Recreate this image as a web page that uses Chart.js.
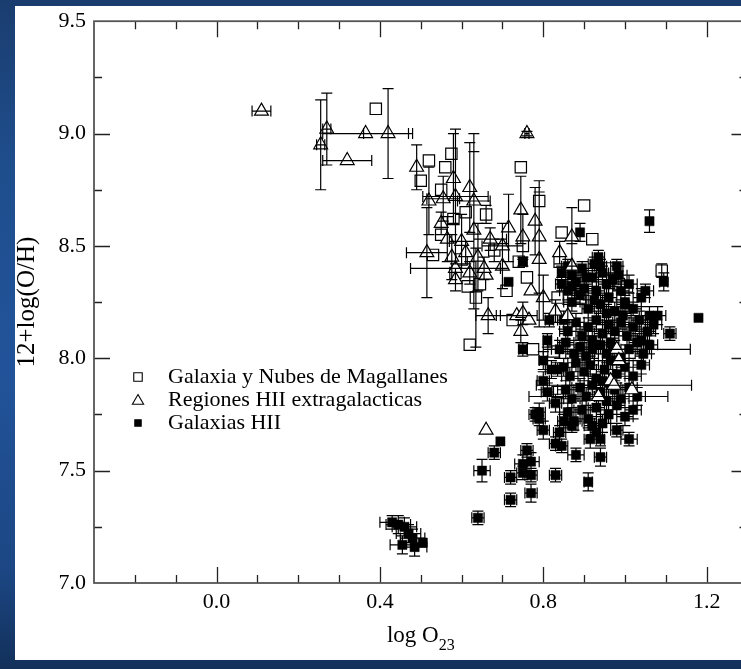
<!DOCTYPE html>
<html><head><meta charset="utf-8">
<title>12+log(O/H) vs log O23</title>
<script src="https://cdn.jsdelivr.net/npm/chart.js@4.4.1/dist/chart.umd.min.js"></script>
<style>
html,body{margin:0;padding:0;width:741px;height:669px;overflow:hidden;}
body{background:linear-gradient(180deg,#1a3d6f 0%,#1f4e8d 25%,#22539a 55%,#1c4784 85%,#12305a 100%);}
#paper{position:absolute;left:15px;top:6px;width:740px;height:654px;background:#fff;}
#wrap{position:absolute;left:0;top:0;width:760px;height:669px;}
</style></head>
<body><div id="paper"></div><div id="wrap"><canvas id="canvas"></canvas></div>
<script>
// [x, y, xErr, yErr]
var galaxiaPts = [
  [0.39,9.11,0,0],[0.52,8.88,0,0],[0.56,8.85,0,0],[0.575,8.91,0,0],[0.50,8.79,0,0],
  [0.55,8.75,0,0],[0.61,8.65,0,0],[0.66,8.64,0,0.04],[0.745,8.85,0,0],[0.79,8.70,0,0],
  [0.90,8.68,0,0],[0.845,8.56,0,0],[0.92,8.53,0,0],[0.55,8.55,0,0],[0.75,8.50,0,0],
  [0.84,8.43,0,0],[0.74,8.43,0,0],[0.76,8.36,0,0],[0.96,8.40,0,0],[1.005,8.32,0,0],
  [1.09,8.39,0,0.03],[0.62,8.06,0,0],[0.615,8.32,0,0],[0.645,8.33,0,0],[0.635,8.27,0,0.22],
  [0.725,8.17,0,0],[0.835,8.27,0,0],[0.60,8.44,0,0],[0.585,8.38,0,0],[0.58,8.62,0,0],
  [0.835,7.85,0,0],[0.775,8.04,0,0],[0.825,8.03,0,0],[0.89,8.27,0,0],[0.985,8.33,0,0],
  [0.53,8.46,0,0],[0.68,8.48,0,0.05],[0.71,8.30,0,0]
];
var regionesPts = [
  [0.11,9.10,0.023,0],[0.27,9.02,0.01,0.16],[0.255,8.95,0.01,0.2],[0.365,9.00,0.105,0],
  [0.32,8.88,0.06,0],[0.42,9.00,0.06,0.2],[0.76,9.00,0.005,0.01],[0.49,8.85,0,0.1],
  [0.58,8.80,0,0.2],[0.62,8.76,0,0.2],[0.52,8.70,0,0.15],[0.555,8.71,0.04,0.1],
  [0.585,8.72,0.08,0.3],[0.63,8.70,0.04,0.3],[0.745,8.66,0,0.15],[0.78,8.61,0,0.15],
  [0.715,8.58,0,0.15],[0.87,8.54,0,0.13],[0.565,8.53,0,0.1],[0.60,8.52,0.03,0.12],
  [0.63,8.57,0,0.35],[0.67,8.53,0.04,0.05],[0.70,8.50,0.05,0.1],[0.75,8.54,0,0.1],
  [0.79,8.54,0,0.25],[0.515,8.47,0.05,0.2],[0.84,8.47,0,0.05],[0.87,8.41,0,0.1],
  [0.576,8.45,0,0.1],[0.70,8.41,0,0.1],[0.79,8.44,0,0.3],[0.585,8.40,0.11,0],
  [0.77,8.30,0,0],[0.80,8.27,0,0.1],[0.665,8.19,0.03,0.08],[0.735,8.19,0.05,0],
  [0.75,8.20,0,0.05],[0.765,8.17,0,0],[0.745,8.12,0,0.05],[0.83,8.21,0,0.05],
  [0.86,8.19,0,0.05],[0.66,8.37,0,0],[0.66,7.68,0,0],[0.98,8.04,0.18,0],
  [0.985,7.99,0.06,0],[0.965,7.90,0,0],[0.973,7.88,0.19,0],[1.017,7.86,0,0],
  [0.935,7.83,0.17,0],[0.61,8.47,0,0.05],[0.64,8.45,0,0.15],[0.62,8.38,0,0.05],
  [0.655,8.40,0,0.05],[0.585,8.35,0,0.05],[0.55,8.60,0,0.05]
];
var hiiPts = [
  [1.06,8.61,0,0.05],[1.18,8.18,0,0],[1.095,8.34,0.01,0.04],[1.11,8.11,0.015,0.03],
  [1.08,8.19,0.02,0.04],[1.05,8.30,0.02,0.03],[0.89,8.56,0,0.04],[0.935,8.45,0.015,0.03],
  [0.94,8.41,0.015,0.03],[0.98,8.41,0.015,0.03],[0.75,8.43,0.01,0.02],[0.715,8.34,0,0],
  [0.75,8.04,0.01,0.03],[0.80,7.99,0.01,0.04],[0.81,8.08,0.01,0.03],[0.815,8.17,0.01,0.03],
  [0.85,8.17,0.015,0.04],[0.835,7.95,0.015,0.03],[0.845,8.33,0.015,0.03],[0.87,8.32,0.015,0.03],
  [0.845,8.38,0.01,0.03],[0.86,8.41,0.015,0.03],[0.87,8.37,0.015,0.03],[0.895,8.40,0.015,0.03],
  [0.905,8.36,0.015,0.03],[0.925,8.42,0.015,0.03],
  [0.695,7.63,0,0],[0.68,7.58,0.015,0.03],[0.65,7.50,0.02,0.05],[0.64,7.29,0.015,0.03],
  [0.72,7.47,0.015,0.03],[0.72,7.37,0.015,0.03],[0.75,7.53,0.02,0.04],[0.76,7.59,0.015,0.03],
  [0.77,7.54,0.02,0.04],[0.75,7.49,0.015,0.03],[0.77,7.48,0.015,0.03],[0.77,7.40,0.015,0.04],
  [0.83,7.48,0.015,0.03],[0.83,7.62,0.015,0.03],[0.845,7.61,0.015,0.03],[0.88,7.57,0.02,0.03],
  [0.91,7.45,0.01,0.04],[0.915,7.64,0.015,0.04],[0.94,7.64,0.01,0.03],[0.94,7.56,0.015,0.04],
  [0.98,7.68,0.015,0.03],[1.01,7.64,0.02,0.03],[0.93,7.67,0.015,0.03],[0.78,7.75,0.015,0.03],
  [0.79,7.73,0.015,0.03],[0.84,7.67,0.015,0.03],[0.85,7.72,0.015,0.03],[0.87,7.70,0.015,0.03],
  [0.43,7.27,0.03,0.03],[0.445,7.26,0.03,0.04],[0.46,7.25,0.03,0.04],[0.47,7.22,0.03,0.04],
  [0.48,7.20,0.03,0.04],[0.455,7.17,0.03,0.04],[0.485,7.16,0.03,0.04],[0.505,7.18,0,0],
  [0.86,8.30,0.02,0.04],[0.88,8.34,0.02,0.04],[0.90,8.31,0.02,0.03],[0.92,8.36,0.015,0.04],
  [0.93,8.30,0.02,0.04],[0.955,8.33,0.02,0.04],[0.97,8.35,0.015,0.03],[0.99,8.30,0.02,0.04],
  [1.01,8.33,0.02,0.04],[0.945,8.38,0.015,0.03],[0.985,8.37,0.02,0.04],
  [0.87,8.25,0.02,0.04],[0.89,8.28,0.02,0.04],[0.91,8.22,0.015,0.04],[0.925,8.26,0.02,0.03],
  [0.94,8.24,0.02,0.04],[0.96,8.27,0.02,0.04],[0.975,8.21,0.015,0.04],[1.0,8.25,0.02,0.04],
  [1.02,8.22,0.02,0.03],[1.04,8.27,0.02,0.04],[0.955,8.20,0.02,0.04],[0.995,8.19,0.02,0.04],
  [0.86,8.12,0.02,0.04],[0.88,8.16,0.02,0.04],[0.895,8.10,0.015,0.03],[0.91,8.14,0.02,0.04],
  [0.93,8.17,0.02,0.04],[0.945,8.11,0.02,0.04],[0.96,8.15,0.015,0.04],[0.975,8.12,0.02,0.04],
  [0.99,8.16,0.02,0.03],[1.005,8.10,0.02,0.04],[1.02,8.14,0.02,0.04],[1.035,8.17,0.02,0.04],
  [1.055,8.12,0.02,0.04],[1.07,8.15,0.02,0.04],[0.92,8.08,0.02,0.04],[0.965,8.07,0.02,0.04],
  [0.84,8.04,0.02,0.04],[0.855,8.07,0.02,0.04],[0.875,8.02,0.02,0.04],[0.89,8.05,0.015,0.03],
  [0.905,8.01,0.02,0.04],[0.92,8.04,0.02,0.04],[0.94,8.06,0.02,0.04],[0.955,8.02,0.02,0.04],
  [0.97,8.05,0.015,0.04],[0.99,8.00,0.02,0.04],[1.01,8.04,0.02,0.04],[1.03,8.07,0.02,0.04],
  [1.045,8.02,0.02,0.04],[1.06,8.06,0.02,0.04],
  [0.85,7.96,0.02,0.04],[0.865,7.92,0.02,0.04],[0.88,7.98,0.02,0.04],[0.90,7.94,0.015,0.04],
  [0.915,7.97,0.02,0.04],[0.93,7.91,0.02,0.04],[0.95,7.95,0.02,0.04],[0.965,7.99,0.02,0.04],
  [0.98,7.93,0.02,0.04],[1.0,7.96,0.02,0.04],[1.02,7.92,0.02,0.04],[1.04,7.97,0.02,0.04],
  [0.945,7.90,0.02,0.04],
  [0.855,7.86,0.02,0.04],[0.87,7.82,0.02,0.04],[0.89,7.87,0.02,0.04],[0.905,7.83,0.02,0.04],
  [0.92,7.88,0.02,0.04],[0.94,7.85,0.02,0.04],[0.955,7.81,0.02,0.04],[0.975,7.86,0.02,0.04],
  [0.99,7.82,0.02,0.04],[1.01,7.87,0.02,0.04],[1.03,7.83,0.02,0.04],[0.96,7.89,0.02,0.04],
  [0.86,7.76,0.02,0.04],[0.875,7.72,0.02,0.04],[0.895,7.77,0.02,0.04],[0.91,7.73,0.02,0.04],
  [0.93,7.78,0.02,0.04],[0.945,7.71,0.02,0.04],[0.96,7.75,0.02,0.04],[0.98,7.79,0.02,0.04],
  [1.0,7.74,0.02,0.04],[1.02,7.77,0.02,0.04],[0.92,7.70,0.02,0.04],
  [0.80,7.90,0.015,0.04],[0.82,7.95,0.015,0.04],[0.81,7.85,0.015,0.04],[0.83,7.80,0.015,0.04],
  [0.79,7.76,0.015,0.04],[0.80,7.68,0.015,0.04],[1.0,8.24,0.02,0.04],[1.06,8.19,0.02,0.04],
  [1.04,8.08,0.02,0.04]
];

var xLabelTicks = [0.0, 0.4, 0.8, 1.2];
var xMinorTicks = [-0.2, -0.1, 0.0, 0.1, 0.2, 0.3, 0.4, 0.5, 0.6, 0.7, 0.8, 0.9, 1.0, 1.1, 1.2];
var yLabelTicks = [7.0, 7.5, 8.0, 8.5, 9.0, 9.5];
var yMinorTicks = [7.25, 7.5, 7.75, 8.0, 8.25, 8.5, 8.75, 9.0, 9.25];
var seriesNames = ['Galaxia y Nubes de Magallanes', 'Regiones HII extragalacticas', 'Galaxias HII'];

var serif = '"Liberation Serif", "Times New Roman", serif';

function toXY(pts){ return pts.map(function(p){ return {x: p[0], y: p[1]}; }); }

// error bars, drawn from the scales
function drawErr(chart, ds){
  var ctx = chart.ctx, xs = chart.scales.x, ys = chart.scales.y;
  var pts = ds.errPts, cap = 5.5;
  ctx.save();
  ctx.strokeStyle = '#000';
  ctx.lineWidth = 1.2;
  ctx.beginPath();
  for (var i = 0; i < pts.length; i++) {
    var p = pts[i];
    var px = xs.getPixelForValue(p[0]), py = ys.getPixelForValue(p[1]);
    if (p[2] > 0) {
      var x1 = xs.getPixelForValue(p[0] - p[2]), x2 = xs.getPixelForValue(p[0] + p[2]);
      ctx.moveTo(x1, py); ctx.lineTo(x2, py);
      ctx.moveTo(x1, py - cap); ctx.lineTo(x1, py + cap);
      ctx.moveTo(x2, py - cap); ctx.lineTo(x2, py + cap);
    }
    if (p[3] > 0) {
      var y1 = ys.getPixelForValue(p[1] - p[3]), y2 = ys.getPixelForValue(p[1] + p[3]);
      ctx.moveTo(px, y1); ctx.lineTo(px, y2);
      ctx.moveTo(px - cap, y1); ctx.lineTo(px + cap, y1);
      ctx.moveTo(px - cap, y2); ctx.lineTo(px + cap, y2);
    }
  }
  ctx.stroke();
  ctx.restore();
}

var errorBars = {
  id: 'errorBars',
  beforeDatasetDraw: function(chart, args){
    var ds = chart.data.datasets[args.index];
    if (!ds.errAfter) drawErr(chart, ds);
  },
  afterDatasetDraw: function(chart, args){
    var ds = chart.data.datasets[args.index];
    if (ds.errAfter) drawErr(chart, ds);
  }
};

var frame = {
  id: 'frame',
  beforeDatasetsDraw: function(chart){
    var ctx = chart.ctx, a = chart.chartArea, xs = chart.scales.x, ys = chart.scales.y;
    ctx.save();
    ctx.strokeStyle = '#222';
    ctx.lineWidth = 1.3;
    ctx.beginPath();
    xMinorTicks.forEach(function(v){
      var px = Math.round(xs.getPixelForValue(v)) + 0.5;
      var len = xLabelTicks.indexOf(v) >= 0 ? 16 : 8;
      ctx.moveTo(px, a.bottom); ctx.lineTo(px, a.bottom - len);
      ctx.moveTo(px, a.top); ctx.lineTo(px, a.top + len);
    });
    yMinorTicks.forEach(function(v){
      var py = Math.round(ys.getPixelForValue(v)) + 0.5;
      var len = yLabelTicks.indexOf(v) >= 0 ? 16 : 8;
      ctx.moveTo(a.left, py); ctx.lineTo(a.left + len, py);
      ctx.moveTo(a.right, py); ctx.lineTo(a.right - len, py);
    });
    ctx.stroke();
    ctx.strokeStyle = '#555';
    ctx.lineWidth = 1.8;
    ctx.strokeRect(a.left, a.top, a.right - a.left, a.bottom - a.top);
    ctx.restore();
  },
  afterDraw: function(chart){
    var ctx = chart.ctx;
    ctx.save();
    // legend inside the plot
    var rows = [377, 400, 423];
    var styles = [
      {pointStyle: 'rect', radius: 6, fill: 'rgba(0,0,0,0)'},
      {pointStyle: 'triangle', radius: 6.5, fill: 'rgba(0,0,0,0)'},
      {pointStyle: 'rect', radius: 4.5, fill: '#000'}
    ];
    ctx.font = '22px ' + serif;
    ctx.textBaseline = 'middle';
    ctx.textAlign = 'left';
    for (var i = 0; i < 3; i++) {
      ctx.fillStyle = styles[i].fill;
      ctx.strokeStyle = '#000';
      ctx.lineWidth = 1.1;
      Chart.helpers.drawPoint(ctx, {pointStyle: styles[i].pointStyle, radius: styles[i].radius, rotation: 0, borderWidth: 1.1}, 138, rows[i] + (i == 1 ? 1 : 0));
      ctx.fillStyle = '#000';
      ctx.fillText(seriesNames[i], 168, rows[i]);
    }
    // x axis title with subscript
    ctx.textBaseline = 'alphabetic';
    ctx.font = '23px ' + serif;
    var main = 'log O', w1 = ctx.measureText(main).width;
    ctx.font = '16px ' + serif;
    var w2 = ctx.measureText('23').width;
    var cx = (chart.chartArea.left + chart.chartArea.right) / 2;
    var sx = cx - (w1 + w2) / 2;
    ctx.font = '23px ' + serif;
    ctx.fillText(main, sx, 642);
    ctx.font = '16px ' + serif;
    ctx.fillText('23', sx + w1, 650);
    ctx.restore();
  }
};

var ctx = document.getElementById('canvas').getContext('2d');
new Chart(ctx, {
  type: 'scatter',
  data: {
    datasets: [
      {
        label: seriesNames[1], data: toXY(regionesPts), errPts: regionesPts, errAfter: true, order: 0,
        pointStyle: 'triangle', pointRadius: 8, pointHoverRadius: 8,
        backgroundColor: '#fff', borderColor: '#000', borderWidth: 1.2
      },
      {
        label: seriesNames[0], data: toXY(galaxiaPts), errPts: galaxiaPts, order: 1,
        pointStyle: 'rect', pointRadius: 8, pointHoverRadius: 8,
        backgroundColor: 'rgba(0,0,0,0)', borderColor: '#000', borderWidth: 1.2
      },
      {
        label: seriesNames[2], data: toXY(hiiPts), errPts: hiiPts, order: 2,
        pointStyle: 'rect', pointRadius: 6.5, pointHoverRadius: 6.5,
        backgroundColor: '#000', borderColor: '#000', borderWidth: 0.5
      }
    ]
  },
  options: {
    responsive: true,
    maintainAspectRatio: false,
    animation: false,
    events: [],
    layout: {padding: {left: 15, top: 16, right: 12.5, bottom: 0}},
    plugins: {legend: {display: false}, tooltip: {enabled: false}},
    scales: {
      x: {
        type: 'linear', min: -0.3, max: 1.3,
        afterBuildTicks: function(s){ s.ticks = xLabelTicks.map(function(v){ return {value: v}; }); },
        afterFit: function(s){ s.height = 86; },
        grid: {display: false, drawTicks: false},
        border: {display: false},
        ticks: {
          padding: 6, autoSkip: false, maxRotation: 0, color: '#000',
          font: {family: serif, size: 22},
          callback: function(v){ return Number(v).toFixed(1); }
        }
      },
      y: {
        type: 'linear', min: 7.0, max: 9.5,
        afterBuildTicks: function(s){ s.ticks = yLabelTicks.map(function(v){ return {value: v}; }); },
        afterFit: function(s){ s.width = 79; },
        grid: {display: false, drawTicks: false},
        border: {display: false},
        ticks: {
          padding: 8, autoSkip: false, color: '#000',
          font: {family: serif, size: 22},
          callback: function(v){ return Number(v).toFixed(1); }
        },
        title: {
          display: true, text: '12+log(O/H)', color: '#000',
          font: {family: serif, size: 25, lineHeight: 1}, padding: 0
        }
      }
    }
  },
  plugins: [errorBars, frame]
});
</script>
</body></html>
